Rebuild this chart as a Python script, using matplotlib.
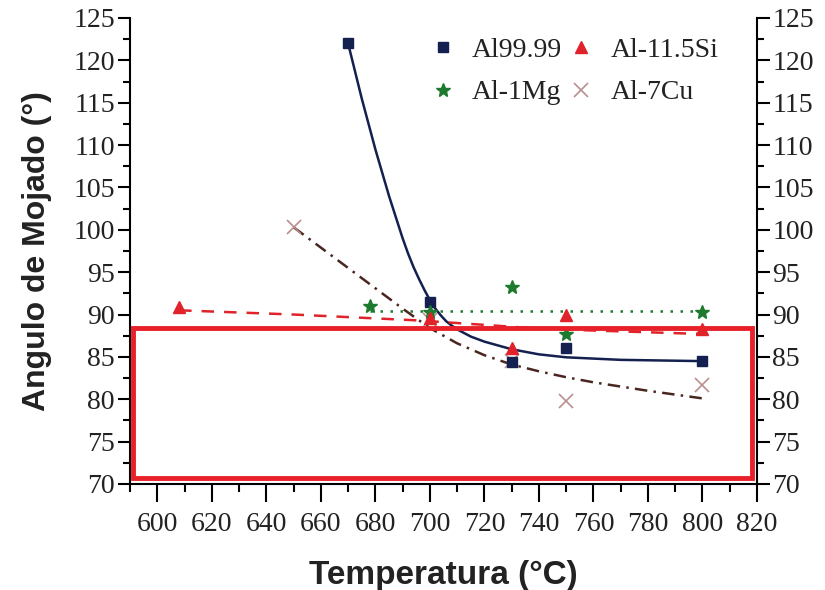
import numpy as np
import matplotlib
matplotlib.use("Agg")
import matplotlib.pyplot as plt
from matplotlib.ticker import MultipleLocator
from matplotlib.patches import Rectangle

# measured points
t_al = [670, 700, 730, 750, 800]
y_al = [122.0, 91.5, 84.4, 86.1, 84.5]
t_si = [608, 700, 730, 750, 800]
y_si = [90.9, 89.6, 86.0, 89.9, 88.3]
t_mg = [678, 700, 730, 750, 800]
y_mg = [91.0, 90.3, 93.2, 87.7, 90.3]
t_cu = [650, 700, 730, 750, 800]
y_cu = [100.3, 89.4, 84.5, 79.8, 81.7]

# fitted curves
ft_al = [670, 675, 680, 685, 690, 692, 694, 696, 698, 700, 702, 704, 706, 708, 710,
         715, 720, 730, 740, 750, 770, 800]
fy_al = [122.0, 115.5, 109.5, 104.0, 99.0, 97.2, 95.6, 94.2, 92.9, 91.7, 90.7, 89.9,
         89.2, 88.7, 88.25, 87.4, 86.8, 85.9, 85.3, 84.95, 84.65, 84.5]
ft_si = [608, 650, 696, 742, 800]
fy_si = [90.5, 90.0, 89.3, 88.3, 87.7]
ft_mg = [678, 800]
fy_mg = [90.4, 90.4]
ft_cu = [650, 660, 670, 680, 690, 700, 710, 720, 730, 740, 750, 760, 780, 800]
fy_cu = [100.3, 97.9, 95.5, 93.1, 90.7, 88.4, 86.6, 85.2, 84.1, 83.3, 82.6, 82.0, 81.0, 80.1]

navy = "#14204f"
red = "#e0232a"
green = "#1e7a2e"
rosy = "#b98f8f"
brown = "#4a2620"

fig = plt.figure(figsize=(8.25, 5.9), dpi=100)
ax = fig.add_axes([0.1576, 0.1797, 0.76, 0.7898])

ax.plot(ft_al, fy_al, color=navy, lw=1.8, ls="-")
ax.plot(ft_si, fy_si, color=red, lw=1.8, ls=(0, (5, 4)))
ax.plot(ft_mg, fy_mg, color=green, lw=1.8, ls=(0, (1, 3)))
ax.plot(ft_cu, fy_cu, color=brown, lw=1.8, ls=(0, (5, 2.5, 1, 2.5)))

h_cu, = ax.plot(t_cu, y_cu, "x", color=rosy, ms=10, mew=1.2, ls="none", label="Al-7Cu")
h_al, = ax.plot(t_al, y_al, "s", color=navy, ms=7, ls="none", label="Al99.99")
h_mg, = ax.plot(t_mg, y_mg, "*", color=green, ms=10, ls="none", label="Al-1Mg")
h_si, = ax.plot(t_si, y_si, "^", color=red, ms=9, ls="none", label="Al-11.5Si")

ax.set_xlim(590, 820)
ax.set_ylim(70, 125)
ax.xaxis.set_major_locator(MultipleLocator(20))
ax.xaxis.set_minor_locator(MultipleLocator(10))
ax.yaxis.set_major_locator(MultipleLocator(5))
ax.yaxis.set_minor_locator(MultipleLocator(2.5))
ax.set_xticks(np.arange(600, 821, 20))

ax.spines["top"].set_visible(False)
for s in ["left", "right", "bottom"]:
    ax.spines[s].set_linewidth(1.5)

ax.tick_params(axis="both", which="both", direction="out", width=1.5,
               labelsize=20, labelfontfamily="Liberation Serif", labelcolor="#222222")
ax.tick_params(axis="y", which="both", right=True, labelright=True)
ax.tick_params(axis="y", which="major", length=9, pad=2)
ax.tick_params(axis="y", which="minor", length=5)
ax.tick_params(axis="x", which="major", length=13, pad=7)
ax.tick_params(axis="x", which="minor", length=6)

ax.set_xlabel("Temperatura (°C)", fontsize=24, fontweight="bold",
              family="Liberation Sans", labelpad=17, color="#222222")
ax.set_ylabel("Angulo de Mojado (°)", fontsize=23, fontweight="bold",
              family="Liberation Sans", labelpad=15, color="#222222")

ax.legend(handles=[h_al, h_mg, h_si, h_cu], ncol=2, frameon=False,
          loc="upper left", bbox_to_anchor=(0.52, 0.937),
          bbox_transform=fig.transFigure, borderpad=0, borderaxespad=0,
          prop={"family": "Liberation Serif", "size": 20},
          handletextpad=0.55, columnspacing=0.18, labelspacing=0.62,
          handlelength=1.0, labelcolor="#222222")

# red highlight box over the lower part of the plot
fig.patches.append(Rectangle((0.1612, 0.19), 0.7503, 0.254, transform=fig.transFigure,
                             fill=False, edgecolor="#e8202a", lw=3.5))

fig.savefig("out.png", dpi=100)
